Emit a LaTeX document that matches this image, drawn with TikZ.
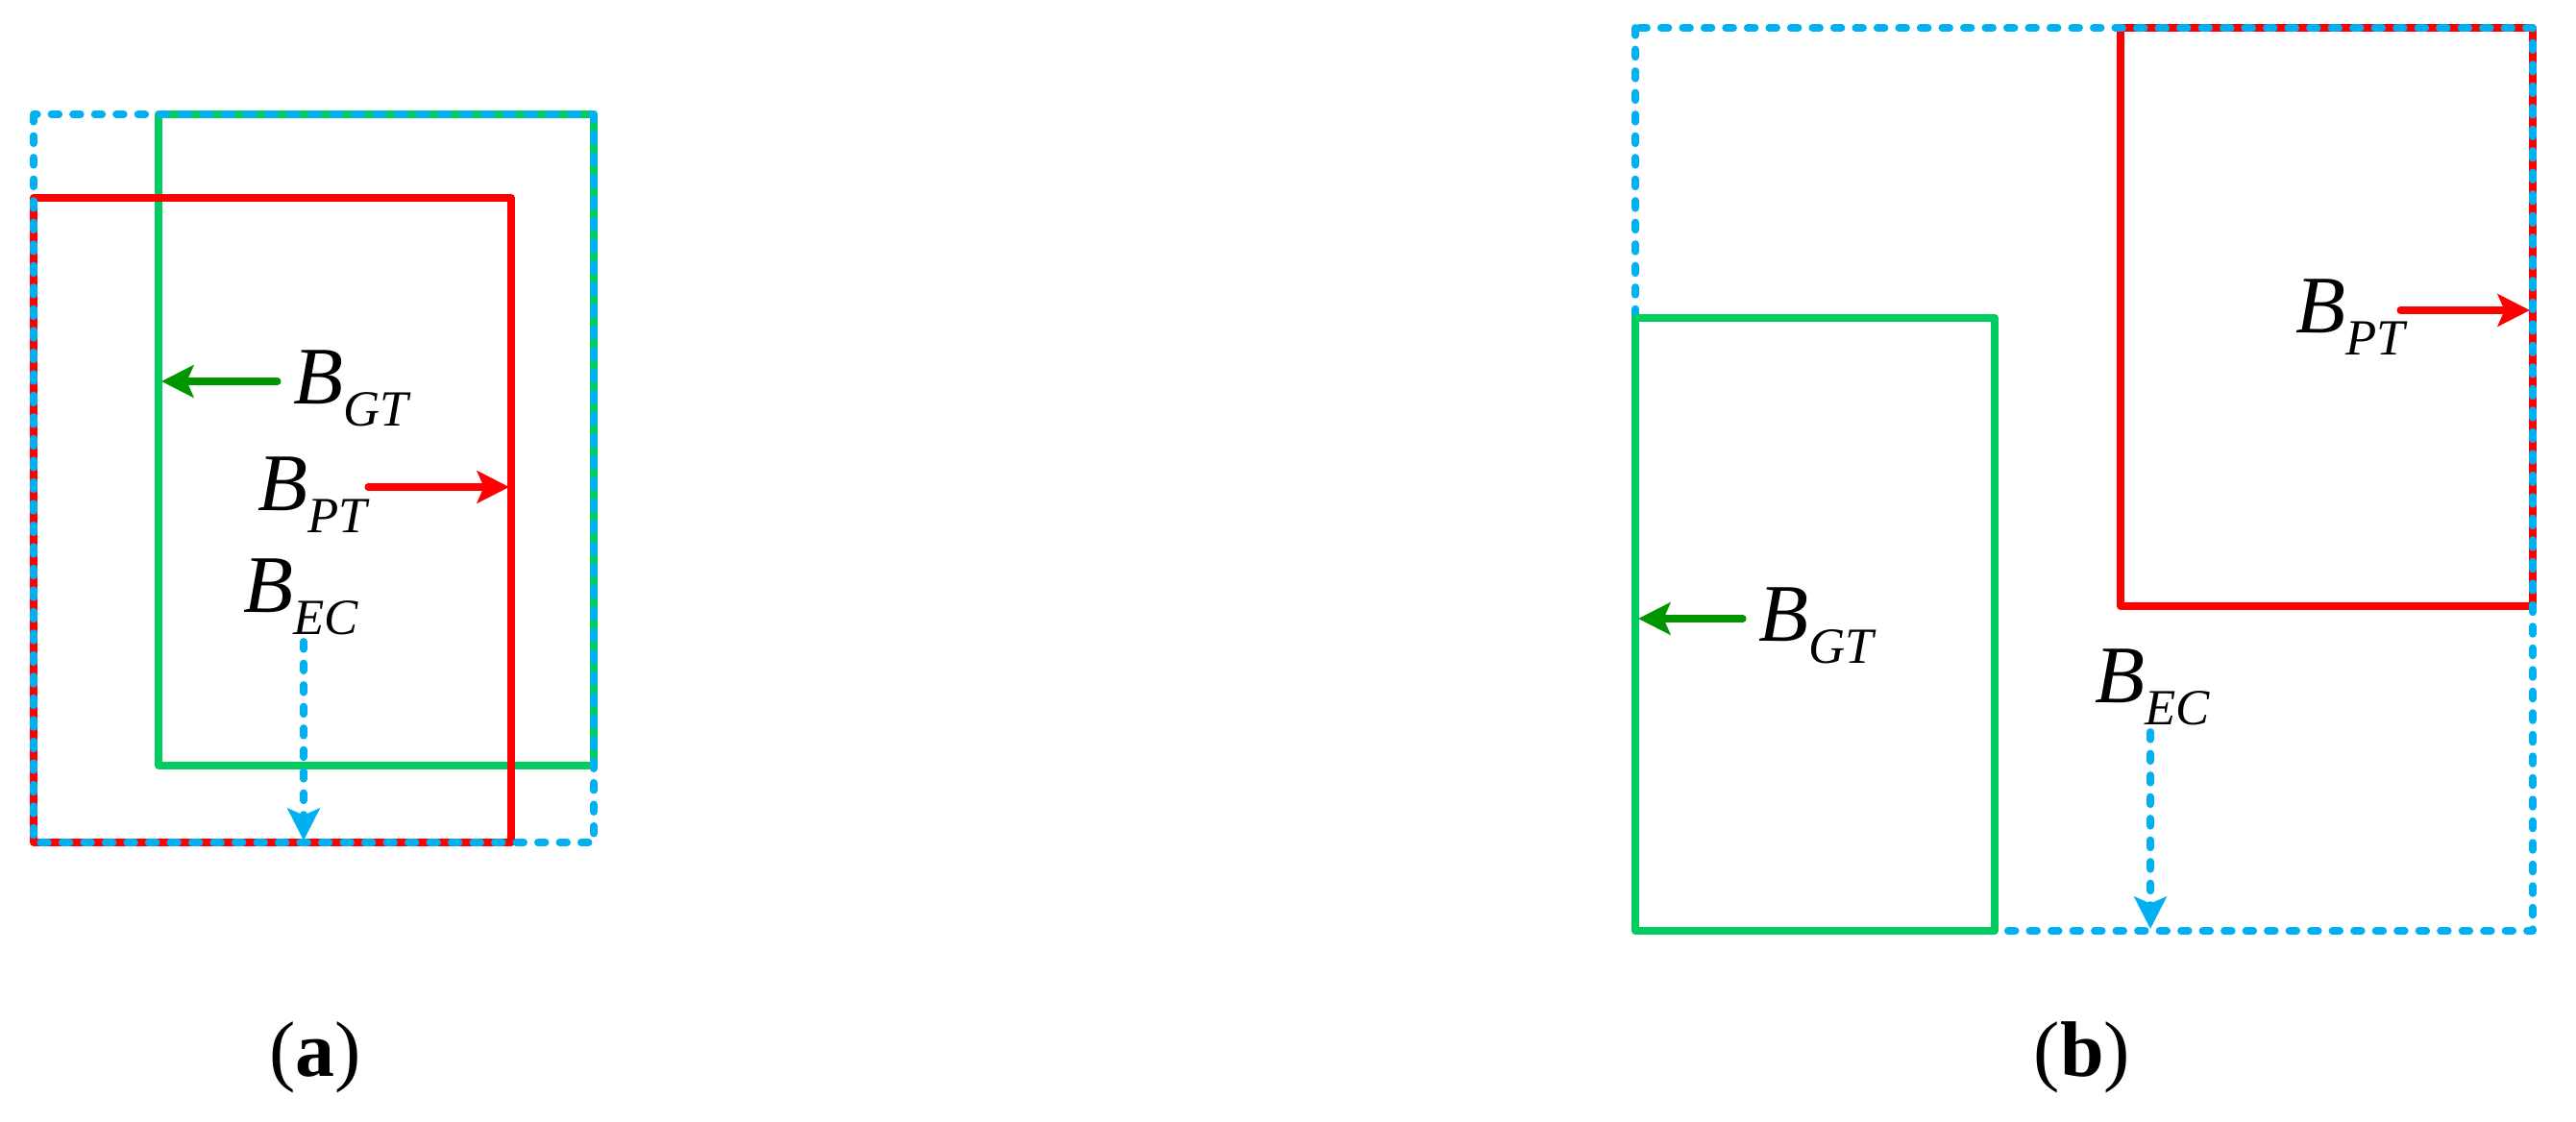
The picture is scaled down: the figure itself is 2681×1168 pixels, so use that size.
\documentclass[tikz,border=0pt]{standalone}
\usepackage{fontspec}
\setmainfont{Liberation Serif}
\usetikzlibrary{arrows.meta}
\definecolor{cblue}{RGB}{0,176,240}
\definecolor{cgreen}{RGB}{0,204,96}
\definecolor{cdgreen}{RGB}{0,150,0}
\definecolor{cred}{RGB}{255,0,0}
\newcommand\bsub[1]{\fontsize{24.2}{24.2}\selectfont\textit{B}\raisebox{-6.4pt}{\fontsize{15}{15}\selectfont\textit{#1}}}
\tikzset{
  boxline/.style={line width=2.2pt, line join=round},
  gtbox/.style={boxline, draw=cgreen},
  ptbox/.style={boxline, draw=cred},
  ecbox/.style={boxline, draw=cblue, line cap=round, dash pattern=on 2.2pt off 4.2pt},
  tipst/.style={-{Stealth[length=9.5pt, width=9.5pt, inset=2pt]}},
  gtarrow/.style={tipst, line width=2pt, draw=cdgreen, fill=cdgreen, line cap=round},
  ptarrow/.style={tipst, line width=2pt, draw=cred, line cap=round},
  ecarrow/.style={tipst, line width=2.2pt, draw=cblue, line cap=round, dash pattern=on 2.2pt off 4.2pt},
  lbl/.style={inner sep=0pt, anchor=base west},
  subcaption/.style={inner sep=0pt, anchor=base, font=\fontsize{23.3}{23.3}\selectfont}
}
\begin{document}
\begin{tikzpicture}[x=0.01cm, y=-0.01cm]
\useasboundingbox (0,0) rectangle (2681,1168);
% ---------- panel (a) ----------
\draw[gtbox] (165,119) rectangle (618,797);
\draw[ptbox] (35,206) rectangle (532,877);
\draw[ecbox] (35,119) rectangle (618,877);
\node[lbl] (aGT) at (305,421) {\bsub{GT}};
\node[lbl] (aPT) at (268,532) {\bsub{PT}};
\node[lbl] (aEC) at (253,638) {\bsub{EC}};
\coordinate (aGTs) at (289,397);
\coordinate (aGTe) at (168,397);
\coordinate (aPTs) at (383,507);
\coordinate (aPTe) at (530,507);
\coordinate (aECs) at (316,668);
\coordinate (aECe) at (316,875);
\draw[gtarrow] (aGTs) -- (aGTe);
\draw[ptarrow] (aPTs) -- (aPTe);
\draw[ecarrow] (aECs) -- (aECe);
\node[subcaption] (capa) at (328,1121) {(\textbf{a})};
% ---------- panel (b) ----------
\draw[ptbox] (2207,29) rectangle (2636,631);
\draw[ecbox] (1702,29) rectangle (2636,969);
\draw[gtbox] (1702,331) rectangle (2076,969);
\node[lbl] (bGT) at (1830,668) {\bsub{GT}};
\node[lbl] (bPT) at (2389,347) {\bsub{PT}};
\node[lbl] (bEC) at (2180,732) {\bsub{EC}};
\coordinate (bGTs) at (1814,644);
\coordinate (bGTe) at (1705,644);
\coordinate (bPTs) at (2498,323);
\coordinate (bPTe) at (2633,323);
\coordinate (bECs) at (2238,762);
\coordinate (bECe) at (2238,967);
\draw[gtarrow] (bGTs) -- (bGTe);
\draw[ptarrow] (bPTs) -- (bPTe);
\draw[ecarrow] (bECs) -- (bECe);
\node[subcaption] (capb) at (2167,1121) {(\textbf{b})};
\end{tikzpicture}
\end{document}
